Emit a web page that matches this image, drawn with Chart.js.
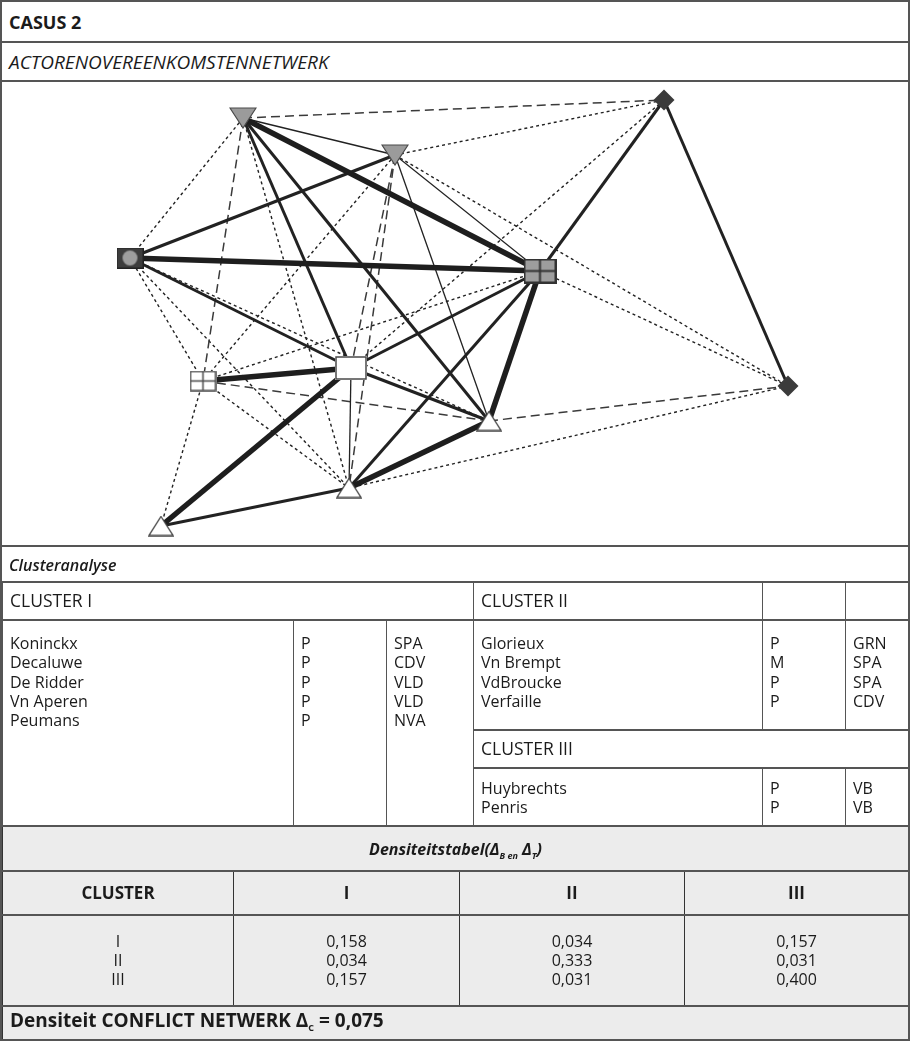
<!DOCTYPE html>
<html>
<head>
<meta charset="utf-8">
<script src="https://cdn.jsdelivr.net/npm/chart.js@4.4.1/dist/chart.umd.min.js"></script>
<style>
  body { margin: 0; background: #fff; font-family: "Open Sans", sans-serif; color: #1b1b1b; }
  #page { position: relative; width: 910px; height: 1041px; box-sizing: border-box; border: 2px solid #555; overflow: hidden; }
  .row { position: absolute; left: 0; width: 906px; box-sizing: border-box; font-size: 16px; padding-left: 7px; display: flex; align-items: center; }
  .hr { border-top: 2px solid #555; }
  #graph { position: absolute; left: 0; top: 78px; width: 906px; height: 466px; border-top: 2px solid #555; box-sizing: border-box; }
  table { border-collapse: collapse; table-layout: fixed; position: absolute; left: 0; width: 906px; font-size: 16px; }
  td { padding: 0 0 0 7px; border: 1px solid #444; line-height: 19.3px; vertical-align: middle; overflow: hidden; white-space: nowrap; }
  #clusters td { border-top-width: 2px; border-bottom-width: 2px; border-color: #555; }
  #clusters td.h { font-size: 17.5px; }
  .top { vertical-align: top; padding-top: 13px; }
  #dens { background: #ececec; }
  #dens td { border: 2px solid #555; border-left: 1px solid #333; border-right: 1px solid #333; text-align: center; padding: 0; }
  #dens td.l { text-align: left; padding-left: 7px; }
  sub { font-size: 9px; vertical-align: -4px; }
</style>
</head>
<body>
<div id="page">
  <div class="row" style="top:0;height:39px;font-weight:700;font-size:18px;">CASUS 2</div>
  <div class="row hr" style="top:39px;height:39px;font-style:italic;font-size:19px;">ACTORENOVEREENKOMSTENNETWERK</div>
  <div id="graph"><canvas id="net" width="906" height="464"></canvas></div>
  <div class="row hr" style="top:543px;height:37px;font-style:italic;font-weight:600;">Clusteranalyse</div>

  <table id="clusters" style="top:579px;">
    <colgroup><col style="width:291px"><col style="width:93px"><col style="width:87px"><col style="width:289px"><col style="width:83px"><col style="width:63px"></colgroup>
    <tr style="height:38px"><td colspan="3" class="h">CLUSTER I</td><td class="h">CLUSTER II</td><td></td><td></td></tr>
    <tr style="height:110px">
      <td rowspan="3" class="top" id="c1names"></td>
      <td rowspan="3" class="top" id="c1roles"></td>
      <td rowspan="3" class="top" id="c1party"></td>
      <td class="top" id="c2names"></td>
      <td class="top" id="c2roles"></td>
      <td class="top" id="c2party"></td>
    </tr>
    <tr style="height:38px"><td colspan="3" class="h">CLUSTER III</td></tr>
    <tr style="height:58px">
      <td class="top" style="padding-top:10px" id="c3names"></td>
      <td class="top" style="padding-top:10px" id="c3roles"></td>
      <td class="top" style="padding-top:10px" id="c3party"></td>
    </tr>
  </table>

  <table id="dens" style="top:823px;">
    <colgroup><col style="width:231px"><col style="width:226px"><col style="width:225px"><col style="width:224px"></colgroup>
    <tr style="height:45px"><td colspan="4" style="font-style:italic;font-weight:700;padding-top:8px;">Densiteitstabel(&Delta;<sub>B en</sub> &Delta;<sub>T</sub>)</td></tr>
    <tr style="height:44px" id="densHead"></tr>
    <tr style="height:91px" id="densBody"></tr>
    <tr style="height:36px"><td colspan="4" class="l" style="font-weight:700;font-size:19px;">Densiteit CONFLICT NETWERK &Delta;<sub>C</sub> = 0,075</td></tr>
  </table>
</div>

<script>
// --- cluster lists ---
const cluster1Names = ['Koninckx', 'Decaluwe', 'De Ridder', 'Vn Aperen', 'Peumans'];
const cluster1Roles = ['P', 'P', 'P', 'P', 'P'];
const cluster1Party = ['SPA', 'CDV', 'VLD', 'VLD', 'NVA'];
const cluster2Names = ['Glorieux', 'Vn Brempt', 'VdBroucke', 'Verfaille'];
const cluster2Roles = ['P', 'M', 'P', 'P'];
const cluster2Party = ['GRN', 'SPA', 'SPA', 'CDV'];
const cluster3Names = ['Huybrechts', 'Penris'];
const cluster3Roles = ['P', 'P'];
const cluster3Party = ['VB', 'VB'];

// --- density table ---
const densClusters = ['I', 'II', 'III'];
const densI = ['0,158', '0,034', '0,157'];
const densII = ['0,034', '0,333', '0,031'];
const densIII = ['0,157', '0,031', '0,400'];

// --- network: node layout ---
const nodeX = [243, 395, 130, 540, 664, 788, 203, 351, 489, 349, 161];
const nodeY = [118, 155, 258, 271, 100, 386, 381, 368, 421, 488, 526];
const nodeShape = ['invTri', 'invTri', 'sqCircle', 'grayCross', 'diamond', 'diamond',
                   'whiteCross', 'whiteRect', 'upTri', 'upTri', 'upTri'];

// edges: node index pairs + kind of tie
const edgeFrom = [0, 2, 6, 7, 3, 8,  0, 1, 1, 7,  0, 0, 1, 2, 3, 4, 3, 3, 7, 9,
                  0, 0, 1, 1, 6, 8,  0, 0, 1, 1, 1, 2, 2, 2, 3, 3, 4, 5, 6, 6];
const edgeTo   = [3, 3, 7, 10, 8, 9, 1, 3, 8, 9,  7, 8, 2, 7, 4, 5, 7, 9, 8, 10,
                  4, 6, 7, 9, 8, 5,  2, 9, 4, 5, 6, 6, 8, 9, 6, 5, 7, 9, 9, 10];
const edgeKind = ['thick', 'thick', 'thick', 'thick', 'thick', 'thick',
                  'thin', 'thin', 'thin', 'thin',
                  'medium', 'medium', 'medium', 'medium', 'medium', 'medium', 'medium', 'medium', 'medium', 'medium',
                  'dashed', 'dashed', 'dashed', 'dashed', 'dashed', 'dashed',
                  'dotted', 'dotted', 'dotted', 'dotted', 'dotted', 'dotted', 'dotted',
                  'dotted', 'dotted', 'dotted', 'dotted', 'dotted', 'dotted', 'dotted'];

// fill the text tables
function fillCell(id, list) {
  document.getElementById(id).innerHTML = list.join('<br>');
}
fillCell('c1names', cluster1Names); fillCell('c1roles', cluster1Roles); fillCell('c1party', cluster1Party);
fillCell('c2names', cluster2Names); fillCell('c2roles', cluster2Roles); fillCell('c2party', cluster2Party);
fillCell('c3names', cluster3Names); fillCell('c3roles', cluster3Roles); fillCell('c3party', cluster3Party);

document.getElementById('densHead').innerHTML =
  ['CLUSTER'].concat(densClusters).map(t => `<td style="font-weight:700;font-size:17px">${t}</td>`).join('');
document.getElementById('densBody').innerHTML =
  [densClusters, densI, densII, densIII].map(col => `<td>${col.join('<br>')}</td>`).join('');

// marker images
function makeMarker(kind) {
  const c = document.createElement('canvas');
  const g = c.getContext('2d');
  if (kind === 'invTri') {
    c.width = 28; c.height = 22;
    g.beginPath(); g.moveTo(1, 1); g.lineTo(27, 1); g.lineTo(14, 21); g.closePath();
    g.fillStyle = '#9b9b9b'; g.fill(); g.strokeStyle = '#4a4a4a'; g.lineWidth = 1.2; g.stroke();
  } else if (kind === 'sqCircle') {
    c.width = 27; c.height = 21;
    g.fillStyle = '#3d3d3d'; g.fillRect(0, 0, 27, 21);
    g.strokeStyle = '#222'; g.strokeRect(0.5, 0.5, 26, 20);
    g.beginPath(); g.arc(13.5, 10.5, 7.5, 0, Math.PI * 2); g.fillStyle = '#9e9e9e'; g.fill();
  } else if (kind === 'grayCross' || kind === 'whiteCross' || kind === 'whiteRect') {
    const big = kind === 'grayCross';
    c.width = big ? 33 : (kind === 'whiteRect' ? 32 : 27);
    c.height = big ? 25 : (kind === 'whiteRect' ? 24 : 21);
    const w = c.width, h = c.height;
    g.fillStyle = big ? '#9e9e9e' : '#fff'; g.fillRect(0, 0, w, h);
    g.strokeStyle = big ? '#333' : '#4a4a4a'; g.lineWidth = big ? 2 : 1.5;
    g.strokeRect(1, 1, w - 2, h - 2);
    if (kind !== 'whiteRect') {
      g.beginPath(); g.moveTo(w / 2, 1); g.lineTo(w / 2, h - 1);
      g.moveTo(1, h / 2); g.lineTo(w - 1, h / 2); g.stroke();
    }
  } else if (kind === 'diamond') {
    c.width = 22; c.height = 22;
    g.beginPath(); g.moveTo(11, 0.5); g.lineTo(21.5, 11); g.lineTo(11, 21.5); g.lineTo(0.5, 11); g.closePath();
    g.fillStyle = '#3b3b3b'; g.fill();
  } else {
    c.width = 26; c.height = 21;
    g.beginPath(); g.moveTo(13, 1); g.lineTo(25, 20); g.lineTo(1, 20); g.closePath();
    g.fillStyle = '#fff'; g.fill(); g.strokeStyle = '#444'; g.lineWidth = 1.3; g.stroke();
  }
  return c;
}

const edgeStyle = {
  thick:  { width: 5.5, dash: [], color: '#1e1e1e' },
  medium: { width: 3, dash: [], color: '#222' },
  thin:   { width: 1.3, dash: [], color: '#222' },
  dashed: { width: 1.5, dash: [9, 5], color: '#3a3a3a' },
  dotted: { width: 1.4, dash: [3, 3], color: '#222' }
};

const datasets = [{
  type: 'scatter',
  order: 0,
  data: nodeX.map((x, i) => ({ x: x, y: nodeY[i] })),
  pointStyle: nodeShape.map(makeMarker),
  pointRadius: 12
}];

edgeFrom.forEach((a, i) => {
  const b = edgeTo[i];
  const s = edgeStyle[edgeKind[i]];
  datasets.push({
    type: 'line',
    order: 1,
    data: [{ x: nodeX[a], y: nodeY[a] }, { x: nodeX[b], y: nodeY[b] }],
    borderColor: s.color,
    borderWidth: s.width,
    borderDash: s.dash,
    pointRadius: 0,
    fill: false
  });
});

new Chart(document.getElementById('net'), {
  type: 'scatter',
  data: { datasets: datasets },
  options: {
    responsive: false,
    animation: false,
    layout: { padding: 0, autoPadding: false },
    plugins: { legend: { display: false }, tooltip: { enabled: false } },
    scales: {
      // page coordinates of the graph panel (canvas sits at page x=2, y=82)
      x: { type: 'linear', min: 2, max: 908, display: false },
      y: { type: 'linear', min: 82, max: 546, reverse: true, display: false }
    }
  }
});
</script>
</body>
</html>
